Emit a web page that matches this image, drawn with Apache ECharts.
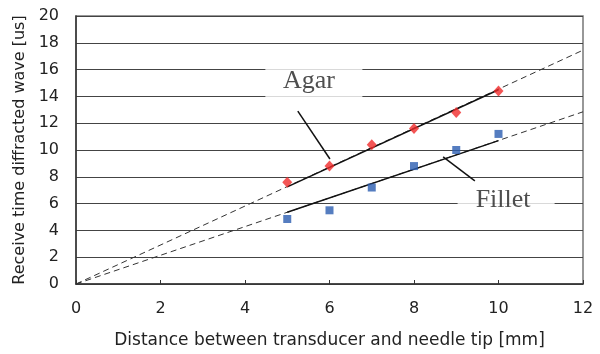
<!DOCTYPE html>
<html><head><meta charset="utf-8">
<script src="https://cdn.jsdelivr.net/npm/echarts@6/dist/echarts.min.js"></script>
<style>html,body{margin:0;padding:0;background:#fff}#c{width:600px;height:354px}</style>
</head><body><div id="c"></div>
<script>
const distances = [5, 6, 7, 8, 9, 10];
const agarTimes = [7.6, 8.8, 10.4, 11.6, 12.8, 14.4];
const filletTimes = [4.85, 5.5, 7.2, 8.8, 10.0, 11.2];
// fitted lines: solid over data range, dashed from origin to 12
const agarFitX = [5, 10];
const agarFitY = [7.25, 14.5];
const agarDashX = [0, 12];
const agarDashY = [0, 17.45];
const filletFitX = [5, 10];
const filletFitY = [5.35, 10.7];
const filletDashX = [0, 12];
const filletDashY = [0, 12.85];
const xTicks = [0, 2, 4, 6, 8, 10, 12];
const yTicks = [0, 2, 4, 6, 8, 10, 12, 14, 16, 18, 20];
// annotation anchors (data coords)
const agarLabel = [5.63, 15.0];
const filletLabel = [10.18, 6.12];
const agarLeader = [[5.25, 12.9], [6.01, 9.33]];
const filletLeader = [[8.69, 9.48], [9.44, 7.69]];

const zip = (xs, ys) => xs.map((x, i) => [x, ys[i]]);
const sans = '"DejaVu Sans", "Noto Sans", sans-serif';
const serif = '"Liberation Serif", "DejaVu Serif", serif';

const chart = echarts.init(document.getElementById('c'));
chart.setOption({
  animation: false,
  grid: { left: 76, right: 17, top: 16, bottom: 70, show: true, borderColor: '#777', borderWidth: 1.5 },
  xAxis: {
    type: 'value', min: 0, max: 12, interval: 2,
    name: 'Distance between transducer and needle tip [mm]',
    nameLocation: 'middle', nameGap: 48,
    nameTextStyle: { fontFamily: sans, fontSize: 17, color: '#222' },
    axisLine: { lineStyle: { color: '#333', width: 1.5 } },
    axisTick: { inside: true, length: 4, lineStyle: { color: '#333' } },
    axisLabel: { fontFamily: sans, fontSize: 16, color: '#222', margin: 17 },
    splitLine: { show: false }
  },
  yAxis: {
    type: 'value', min: 0, max: 20, interval: 2,
    name: 'Receive time diffracted wave [us]',
    nameLocation: 'middle', nameGap: 46,
    nameTextStyle: { fontFamily: sans, fontSize: 16, color: '#222' },
    axisLine: { show: true, lineStyle: { color: '#333', width: 1.5 } },
    axisTick: { show: false },
    axisLabel: { fontFamily: sans, fontSize: 16, color: '#222', margin: 17 },
    splitLine: { show: true, lineStyle: { color: '#444', width: 1 } }
  },
  series: [
    { type: 'line', data: zip(agarDashX, agarDashY), symbol: 'none', z: 3,
      lineStyle: { color: '#333', width: 1, type: [6, 4] } },
    { type: 'line', data: zip(filletDashX, filletDashY), symbol: 'none', z: 3,
      lineStyle: { color: '#333', width: 1, type: [6, 4] } },
    { type: 'line', data: zip(agarFitX, agarFitY), symbol: 'none', z: 4,
      lineStyle: { color: '#111', width: 1.5 } },
    { type: 'line', data: zip(filletFitX, filletFitY), symbol: 'none', z: 4,
      lineStyle: { color: '#111', width: 1.5 } },
    { type: 'scatter', name: 'Agar', data: zip(distances, agarTimes), symbol: 'diamond',
      symbolSize: [10, 11], z: 5, itemStyle: { color: '#f02a2a' } },
    { type: 'scatter', name: 'Fillet', data: zip(distances, filletTimes), symbol: 'rect',
      symbolSize: 8, z: 5, itemStyle: { color: '#2a5db0' } },
    { type: 'scatter', data: [agarLabel], symbol: 'rect', symbolSize: [97, 42], z: 6, silent: true,
      itemStyle: { color: '#fff' },
      label: { show: true, position: 'inside', formatter: 'Agar', fontFamily: serif, fontSize: 26,
        color: '#222', offset: [-5, -2] } },
    { type: 'scatter', data: [filletLabel], symbol: 'rect', symbolSize: [97, 42], z: 6, silent: true,
      itemStyle: { color: '#fff' },
      label: { show: true, position: 'inside', formatter: 'Fillet', fontFamily: serif, fontSize: 26,
        color: '#222', offset: [-3, -2] } },
    { type: 'line', data: agarLeader, symbol: 'none', z: 7, lineStyle: { color: '#111', width: 1.5 } },
    { type: 'line', data: filletLeader, symbol: 'none', z: 7, lineStyle: { color: '#111', width: 1.5 } }
  ]
});
</script></body></html>
